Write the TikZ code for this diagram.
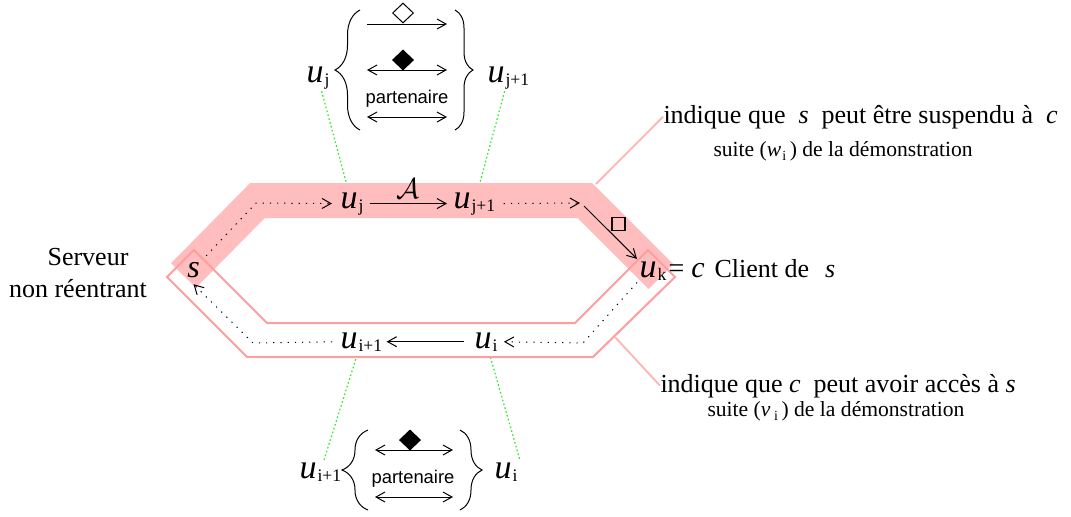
\documentclass[tikz,border=0pt]{standalone}
\usepackage{fontspec}
\setmainfont{Liberation Serif}
\newfontfamily\partfont{Liberation Sans}
\usepackage{tikz}
\usetikzlibrary{
    arrows.meta,
    backgrounds,
    decorations.pathreplacing,
    shapes.geometric
}

\definecolor{bandpink}{RGB}{255,189,189}
\definecolor{edgepink}{RGB}{255,158,158}
\definecolor{leadpink}{RGB}{255,180,180}
\definecolor{linkgreen}{RGB}{40,235,40}

% u with a small upright index
\newcommand{\uu}[1]{\textit{u}\kern0.5pt\raisebox{-1.5pt}{\fontsize{8.8}{8.8}\selectfont #1}}
\newcommand{\idx}[1]{\raisebox{-2pt}{\fontsize{7}{7}\selectfont #1}}

\begin{document}
\begin{tikzpicture}[x=0.5pt, y=-0.5pt, line width=0.5pt,
    onehead/.style={-{Straight Barb[length=4.5pt,width=5pt]}},
    twohead/.style={{Straight Barb[length=4.5pt,width=5pt]}-{Straight Barb[length=4.5pt,width=5pt]}},
    unode/.style={font=\fontsize{17}{17}\selectfont, inner sep=1pt, anchor=base west},
    txt/.style={font=\fontsize{13}{14}\selectfont, inner sep=0pt, anchor=base west},
    suitetxt/.style={font=\fontsize{10.8}{12}\selectfont, inner sep=0pt, anchor=base west},
    parttxt/.style={font=\partfont\fontsize{9.2}{10}\selectfont, inner sep=0pt},
    dotline/.style={dash pattern=on 0.6pt off 3pt},
    spaced/.style={shorten <=2pt, shorten >=2pt},
    greenlink/.style={linkgreen, dash pattern=on 0.8pt off 1.2pt, line width=0.6pt},
    bracegrp/.style={decorate, decoration={brace, amplitude=#1}}]

        \useasboundingbox (0,0) rectangle (1071,516);

        % Nodes on the cycle
        \node[font=\fontsize{16}{16}\selectfont\itshape, inner sep=3pt] (s) at (193.5,270) {s};
        \node[unode] (uj)  at (338,208) {\uu{j}};
        \node[unode] (ujj) at (451,208) {\uu{j+1}};
        \node[unode] (uk)  at (637,277) {\uu{k}};
        \node[unode] (ui)  at (472,348) {\uu{i}};
        \node[unode] (uii) at (338,348) {\uu{i+1}};
        \node[font=\fontsize{14}{14}\selectfont, inner sep=0pt, anchor=base west] (eqc) at (668,277)
            {=\ \fontsize{15}{15}\selectfont\textit{c}};
        \node[txt] (client) at (714,277) {Client de\hspace{8pt}\textit{s}};

        % Server label
        \node[txt, anchor=base] (srv1) at (88,265) {Serveur};
        \node[txt, anchor=base] (srv2) at (78,297) {non réentrant};

        % Notes on the right
        \node[txt] (note1) at (663,123) {indique que\ \ \textit{s}\ \ peut être suspendu à\ \ \textit{c}};
        \node[suitetxt] (suite1) at (713,156) {suite (\textit{w}\kern0.5pt\idx{i}\,) de la démonstration};
        \node[txt] (note2) at (660,392) {indique que \textit{c}\ \ peut avoir accès à \textit{s}};
        \node[suitetxt] (suite2) at (707,416) {suite (\textit{v}\,\idx{i}\,) de la démonstration};

        % Labels of the two brace groups
        \node[unode] (tuj)  at (304,82)  {\uu{j}};
        \node[unode] (tujj) at (485,82)  {\uu{j+1}};
        \node[unode] (buii) at (297,478) {\uu{i+1}};
        \node[unode] (bui)  at (492,478) {\uu{i}};

        % Corners of the paths
        \coordinate (tl) at (256,203);
        \coordinate (tr) at (580,203);
        \coordinate (trs) at (584,206);
        \coordinate (br) at (583,343);
        \coordinate (bl) at (253,343);
        \coordinate (bandTR) at (596,184);
        \coordinate (hexR) at (615,337);

        % Pink band, lower hexagon and green links behind everything
        \begin{scope}[on background layer]
            \draw[greenlink] (tuj) -- (uj);
            \draw[greenlink] (tujj) -- (ujj);
            \draw[greenlink] (buii) -- (uii);
            \draw[greenlink] (ui) -- (bui.north east);
            \fill[white] (167,277) -- (247,357) -- (593,357) -- (675,277) -- (648,250)
                -- (575,323) -- (267,323) -- (194,250) -- cycle;
            \draw[bandpink, line width=17.5pt, line join=miter]
                (183.5,275.5) -- (257.5,200.5) -- (585,200.5) -- (661,276.5);
            \draw[edgepink, line width=1pt] (167,277) -- (247,357) -- (593,357) -- (675,277) -- (648,250)
                -- (575,323) -- (267,323) -- (194,250) -- cycle;
        \end{scope}

        % Leader lines to the notes
        \draw[leadpink, line width=0.9pt] (bandTR) -- (note1.west);
        \draw[leadpink, line width=0.9pt] (hexR) -- (note2.west);

        % Upper path: s to u_k
        \draw[dotline, onehead, shorten >=3pt] (s.north east) -- (tl) -- (uj.west);
        \draw[onehead, spaced] (uj) -- node[above=-1pt, font=\fontsize{14}{14}\selectfont] (calA) {$\mathcal{A}$} (ujj);
        \draw[dotline, onehead, shorten <=3pt] (ujj.east) -- (tr);
        \draw[onehead] (trs) -- (uk.north west);
        \node[draw, rectangle, minimum size=6.5pt, inner sep=0pt, line width=0.6pt] (sq) at (618.5,224) {};

        % Lower path: u_k back to s
        \draw[dotline, onehead, shorten >=2pt] (uk.south west) -- (br) -- (ui.east);
        \draw[onehead, shorten <=4pt, shorten >=1pt] (ui) -- (uii);
        \draw[dotline, onehead, shorten <=3pt] (uii.west) -- (bl) -- (s.south);

        % Upper brace group
        \draw[bracegrp=12.5pt] (360,130) -- (360,10);
        \draw[bracegrp=9pt] (455,10) -- (455,130);
        \draw[onehead] (367,24) -- (447,24);
        \foreach \y in {70,117}
            \draw[twohead] (367,\y) -- (447,\y);
        \node[diamond, draw, fill=white, minimum width=10.5pt, minimum height=10pt, inner sep=0pt] (dmA) at (403,13) {};
        \node[diamond, draw, fill=black, minimum width=10.5pt, minimum height=10pt, inner sep=0pt] (dmB) at (403,60) {};
        \node[parttxt] (partA) at (407,99) {partenaire};

        % Lower brace group
        \draw[bracegrp=13pt] (368,510) -- (368,430);
        \draw[bracegrp=11pt] (460,430) -- (460,510);
        \foreach \y in {450,497}
            \draw[twohead] (375,\y) -- (453,\y);
        \node[diamond, draw, fill=black, minimum width=10.5pt, minimum height=10pt, inner sep=0pt] (dmC) at (410,440) {};
        \node[parttxt] (partB) at (413,479) {partenaire};

\end{tikzpicture}
\end{document}
